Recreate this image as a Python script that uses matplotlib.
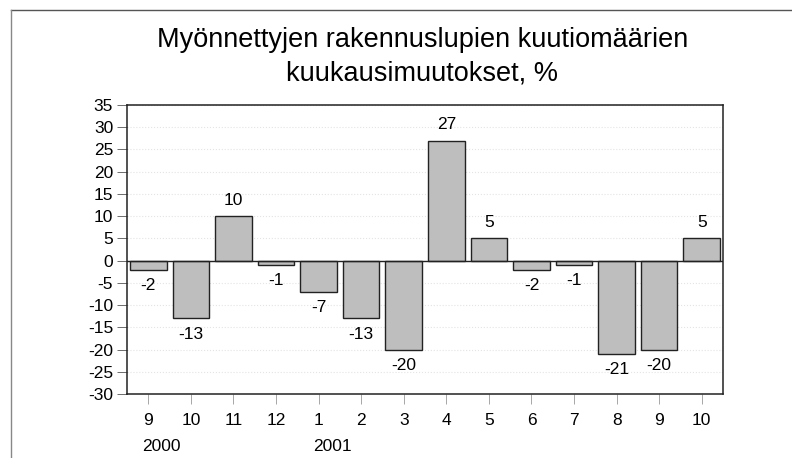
import matplotlib
matplotlib.use('Agg')
import matplotlib.pyplot as plt
from matplotlib.lines import Line2D

# monthly change of building permit volumes, %
months = ['9', '10', '11', '12', '1', '2', '3', '4', '5', '6', '7', '8', '9', '10']
values = [-2, -13, 10, -1, -7, -13, -20, 27, 5, -2, -1, -21, -20, 5]
years = ['2000', '2001']
year_pos = [0, 4]   # index of the month where each year starts
yticks = list(range(-30, 40, 5))

plt.rcParams['font.family'] = ['Liberation Sans', 'DejaVu Sans']
fs = 12.5

fig = plt.figure(figsize=(7.92, 4.58), dpi=100)
ax = fig.add_axes([0.1604, 0.1397, 0.7525, 0.631])

x = list(range(len(values)))
ax.bar(x, values, width=0.86, color='#bebebe', edgecolor='#222222', linewidth=1.0, zorder=3)

for xi, v in zip(x, values):
    if v >= 0:
        ax.annotate(str(v), (xi, v), xytext=(0, 6), textcoords='offset points',
                    ha='center', va='bottom', fontsize=fs)
    else:
        ax.annotate(str(v), (xi, v), xytext=(0, -6), textcoords='offset points',
                    ha='center', va='top', fontsize=fs)

ax.axhline(0, color='#222222', linewidth=1.0, zorder=4)
ax.set_xlim(-0.5, len(values) - 0.5)
ax.set_ylim(-30, 35)
ax.set_yticks(yticks)
ax.set_yticklabels([str(t) for t in yticks], fontsize=fs)
ax.set_xticks(x)
ax.set_xticklabels(months, fontsize=fs)
ax.tick_params(axis='y', length=7, width=0.6, color='#555555', pad=3)
ax.tick_params(axis='x', length=7, width=0.6, color='#999999', pad=7)
ax.yaxis.grid(True, linestyle=':', color='#e4e4e4', linewidth=0.8, zorder=0)
for s in ax.spines.values():
    s.set_linewidth(1.1)
    s.set_color('#222222')

for yr, p in zip(years, year_pos):
    ax.text(p - 0.14, -0.18, yr, transform=ax.get_xaxis_transform(),
            ha='left', va='center', fontsize=fs)

fig.text(0.533, 0.876, 'Myönnettyjen rakennuslupien kuutiomäärien\nkuukausimuutokset, %',
         ha='center', va='center', fontsize=19.5, linespacing=1.4)

# outer frame (top and left edges)
fig.add_artist(Line2D([11 / 792, 1.0], [1 - 10 / 458, 1 - 10 / 458], color='#555555', linewidth=1.0))
fig.add_artist(Line2D([11 / 792, 11 / 792], [0.0, 1 - 10 / 458], color='#888888', linewidth=1.0))

fig.savefig('out.png', dpi=100)
